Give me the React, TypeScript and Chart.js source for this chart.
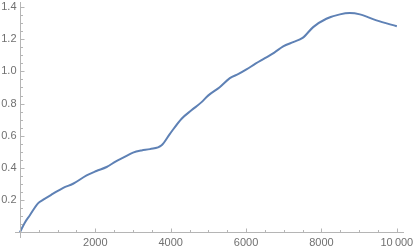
import React, { useEffect, useRef } from "react";
import { Chart, registerables } from "chart.js";

Chart.register(...registerables);

const xValues = [0, 130, 260, 480, 620, 880, 1150, 1410, 1770, 2030, 2300, 2560, 2740, 3000, 3230, 3450, 3760, 3980, 4290, 4550, 4820, 5000, 5300, 5570, 5800, 6010, 6250, 6500, 6750, 6985, 7250, 7500, 7780, 8130, 8490, 8750, 9020, 9460, 10000];
const yValues = [0, 0.06, 0.105, 0.18, 0.203, 0.24, 0.277, 0.302, 0.354, 0.381, 0.406, 0.443, 0.464, 0.495, 0.509, 0.517, 0.541, 0.612, 0.706, 0.758, 0.809, 0.851, 0.902, 0.958, 0.984, 1.012, 1.048, 1.082, 1.117, 1.155, 1.182, 1.208, 1.275, 1.327, 1.354, 1.362, 1.354, 1.317, 1.28];

const xTickValues = [2000, 4000, 6000, 8000, 10000];
const xTickLabels = ["2000", "4000", "6000", "8000", "10\u2009000"];
const yTickValues = [0.2, 0.4, 0.6, 0.8, 1.0, 1.2, 1.4];
const yTickLabels = ["0.2", "0.4", "0.6", "0.8", "1.0", "1.2", "1.4"];

const AXIS_COLOR = "#b5b5b5";
const TEXT_COLOR = "#707070";
const FONT = '11px "Liberation Sans", Arial, sans-serif';

const axesPlugin = {
  id: "mmaAxes",
  afterDraw(chart: any) {
    const ctx = chart.ctx;
    const xs = chart.scales.x;
    const ys = chart.scales.y;
    const area = chart.chartArea;
    const x0 = Math.round(xs.getPixelForValue(0)) + 0.5;
    const y0 = Math.round(ys.getPixelForValue(0)) + 0.5;
    ctx.save();
    ctx.strokeStyle = AXIS_COLOR;
    ctx.lineWidth = 1;
    ctx.beginPath();
    ctx.moveTo(area.left, y0);
    ctx.lineTo(area.right, y0);
    ctx.moveTo(x0, area.top);
    ctx.lineTo(x0, area.bottom);
    for (let v = 500; v <= 10000; v += 500) {
      const px = Math.round(xs.getPixelForValue(v)) + 0.5;
      const len = v % 2000 === 0 ? 4 : 2.5;
      ctx.moveTo(px, y0);
      ctx.lineTo(px, y0 - len);
    }
    for (let i = 1; i <= 28; i++) {
      const v = i * 0.05;
      const py = Math.round(ys.getPixelForValue(v)) + 0.5;
      const len = i % 4 === 0 ? 4 : 2.5;
      ctx.moveTo(x0, py);
      ctx.lineTo(x0 + len, py);
    }
    ctx.stroke();
    ctx.fillStyle = TEXT_COLOR;
    ctx.font = FONT;
    ctx.textAlign = "center";
    ctx.textBaseline = "middle";
    xTickValues.forEach((v, i) => {
      ctx.fillText(xTickLabels[i], xs.getPixelForValue(v), y0 + 10.5);
    });
    ctx.textAlign = "right";
    yTickValues.forEach((v, i) => {
      ctx.fillText(yTickLabels[i], x0 - 4, ys.getPixelForValue(v));
    });
    ctx.restore();
  },
};

export default function App() {
  const ref = useRef<HTMLCanvasElement | null>(null);
  useEffect(() => {
    if (!ref.current) return;
    const chart = new Chart(ref.current, {
      type: "line",
      data: {
        datasets: [
          {
            data: xValues.map((x, i) => ({ x, y: yValues[i] })),
            borderColor: "rgb(94,129,181)",
            borderWidth: 2,
            pointRadius: 0,
            cubicInterpolationMode: "monotone",
            fill: false,
          },
        ],
      },
      options: {
        animation: false,
        responsive: false,
        maintainAspectRatio: false,
        layout: { padding: { left: 15, right: 11, top: 2, bottom: 14 } },
        plugins: { legend: { display: false }, tooltip: { enabled: false } },
        scales: {
          x: { type: "linear", min: -130, max: 10190, display: false },
          y: { type: "linear", min: -0.035, max: 1.431, display: false },
        },
      },
      plugins: [axesPlugin],
    });
    return () => chart.destroy();
  }, []);
  return (
    <div style={{ position: "fixed", left: 0, top: 0, width: 415, height: 252, background: "#fff" }}>
      <canvas ref={ref} width={415} height={252} style={{ display: "block" }} />
    </div>
  );
}
